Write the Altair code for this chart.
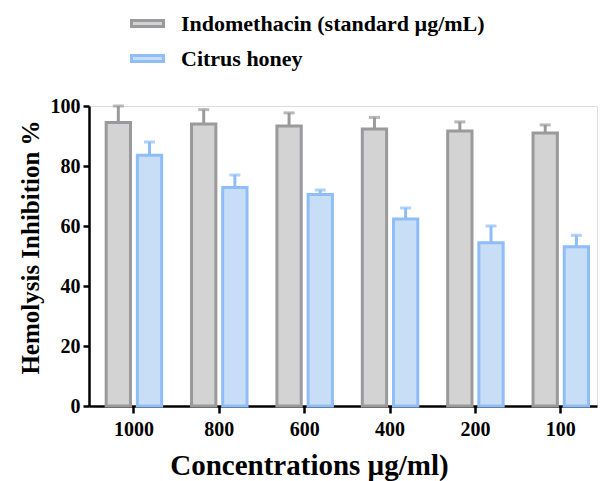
import altair as alt
import pandas as pd

concentrations = ["1000", "800", "600", "400", "200", "100"]
series_names = ["Indomethacin (standard µg/mL)", "Citrus honey"]
indomethacin = [94.5, 94.0, 93.3, 92.3, 91.7, 91.0]
indomethacin_err = [5.5, 4.8, 4.4, 3.9, 3.0, 2.7]
citrus = [83.6, 72.8, 70.5, 62.3, 54.4, 53.1]
citrus_err = [4.4, 4.2, 1.5, 3.7, 5.6, 3.8]

fills = ["#d3d3d3", "#c8def7"]
strokes = ["#9a9a9c", "#8fbdf7"]

rows = []
for i, c in enumerate(concentrations):
    rows.append({"conc": c, "series": series_names[0], "grp": series_names[0],
                 "value": indomethacin[i], "hi": indomethacin[i] + indomethacin_err[i]})
    rows.append({"conc": c, "series": series_names[1], "grp": series_names[1],
                 "value": citrus[i], "hi": citrus[i] + citrus_err[i]})
df = pd.DataFrame(rows)

FONT = "Liberation Serif"

x = alt.X("conc:N", sort=concentrations,
          scale=alt.Scale(paddingInner=0.35, paddingOuter=0.15, align=0.67),
          axis=alt.Axis(title="Concentrations µg/ml)", labelAngle=0,
                        titleFontSize=29, titleFont=FONT, titleFontWeight="bold",
                        titleColor="#000", titlePadding=12,
                        titleX=220, titleAlign="center",
                        labelFont=FONT, labelFontSize=20, labelFontWeight="bold",
                        labelColor="#000", labelPadding=6,
                        domainColor="#000", domainWidth=2.5,
                        tickColor="#000", tickWidth=2.5, tickSize=7))
xo = alt.XOffset("series:N", sort=series_names,
                 scale=alt.Scale(paddingInner=0.22, domain=series_names))

y_axis = alt.Axis(title="Hemolysis Inhibition %", values=[0, 20, 40, 60, 80, 100],
                  titleFontSize=25, titleFont=FONT, titleFontWeight="bold",
                  titleColor="#000", titlePadding=7,
                  titleY=141, titleAlign="center",
                  labelFont=FONT, labelFontSize=20, labelFontWeight="bold",
                  labelColor="#000", labelPadding=3,
                  domainColor="#000", domainWidth=2.5,
                  tickColor="#000", tickWidth=2.5, tickSize=6, grid=False)

legend = alt.Legend(title=None, orient="none", legendX=41, legendY=-100,
                    symbolType="M-1,-0.19H1V0.19H-1Z", symbolSize=1024,
                    symbolStrokeWidth=3, symbolOpacity=1,
                    labelFont=FONT, labelFontSize=22, labelFontWeight="bold",
                    labelColor="#000", labelOffset=16, rowPadding=6,
                    labelLimit=400)

fill = alt.Fill("series:N", sort=series_names,
                scale=alt.Scale(domain=series_names, range=fills), legend=legend)
stroke = alt.Stroke("series:N", sort=series_names,
                    scale=alt.Scale(domain=series_names, range=strokes), legend=legend)
errcolor = alt.Color("grp:N", sort=series_names,
                     scale=alt.Scale(domain=series_names, range=strokes), legend=None)

base = alt.Chart(df)

bars = base.mark_bar(strokeWidth=3, opacity=1).encode(
    x=x, xOffset=xo,
    y=alt.Y("value:Q", scale=alt.Scale(domain=[0, 100]), axis=y_axis),
    fill=fill, stroke=stroke,
)

err = base.mark_rule(strokeWidth=3).encode(
    x=x, xOffset=xo,
    y=alt.Y("value:Q"), y2="hi:Q",
    color=errcolor,
)

caps = base.mark_tick(thickness=3, size=11, orient="horizontal").encode(
    x=x, xOffset=xo,
    y=alt.Y("hi:Q"),
    color=errcolor,
)

chart = alt.layer(err, bars, caps).resolve_scale(
    color="independent", fill="independent", stroke="independent"
).properties(
    width=508, height=300,
    autosize=alt.AutoSizeParams(type="none"),
    padding={"left": 89, "top": 106, "right": 3, "bottom": 75},
).configure_view(stroke=None).configure(background="white")

chart.save("out.html", embed_options={"renderer": "svg", "actions": False})
